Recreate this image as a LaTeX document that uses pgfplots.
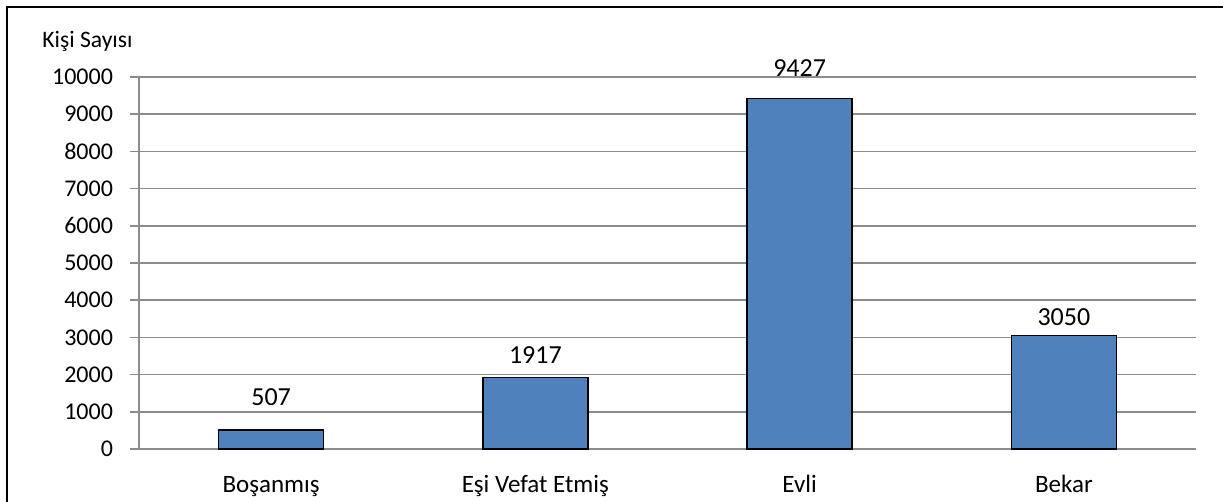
\documentclass[border=0pt]{standalone}
\usepackage{pgfplots}
\pgfplotsset{compat=1.18}
\usepackage{fontspec}
\setmainfont{Carlito}
\definecolor{barblue}{HTML}{4F81BD}
\definecolor{gridgray}{HTML}{8C8C8C}
\begin{document}
\begin{tikzpicture}
\begin{axis}[
  at={(69.5pt,26.5pt)}, anchor=south west,
  scale only axis, width=528.5pt, height=186pt,
  xmin=-0.5, xmax=3.5, ymin=0, ymax=10000,
  ytick={0,1000,...,10000},
  xtick={0,1,2,3},
  xticklabels={Boşanmış, Eşi Vefat Etmiş, Evli, Bekar},
  axis x line*=bottom, axis y line*=left,
  axis line style={gridgray, line width=0.75pt},
  x axis line style={-}, y axis line style={-},
  ymajorgrids, major grid style={gridgray, line width=0.75pt},
  major tick length=4.5pt, tick align=outside,
  ytick style={gridgray, line width=0.75pt},
  xtick style={draw=none},
  scaled y ticks=false,
  /pgf/number format/assume math mode=true,
  yticklabel={\pgfmathprintnumber[fixed,1000 sep={}]{\tick}},
  tick label style={text=black},
  yticklabel style={font=\fontsize{12}{14}\selectfont, anchor=east, xshift=-5pt},
  xticklabel style={font=\fontsize{12.5}{14}\selectfont, anchor=base, yshift=-17.5pt},
  clip=false,
]
\addplot[ybar, bar width=52.5pt, fill=barblue, draw=black, line width=0.75pt]
  coordinates {(0,507) (1,1917) (2,9427) (3,3050)};
% value labels, placed at the label positions
\addplot[draw=none, mark=none, nodes near coords, point meta=explicit symbolic,
  nodes near coords style={font=\fontsize{13}{15}\selectfont, anchor=base, inner sep=0pt}]
  coordinates {(0,1156)[507] (1,2285)[1917] (2,10000)[9427] (3,3333)[3050]};
\end{axis}
\node[anchor=west, inner sep=0pt, font=\fontsize{11.8}{13}\selectfont] at (21pt,230.5pt) {Kişi Sayısı};
\draw[black, line width=1.2pt] (3.5pt,-10pt) -- (3.5pt,247.5pt) -- (640pt,247.5pt);
\pgfresetboundingbox
\useasboundingbox (0,0) rectangle (611.5pt,251pt);
\end{tikzpicture}
\end{document}
